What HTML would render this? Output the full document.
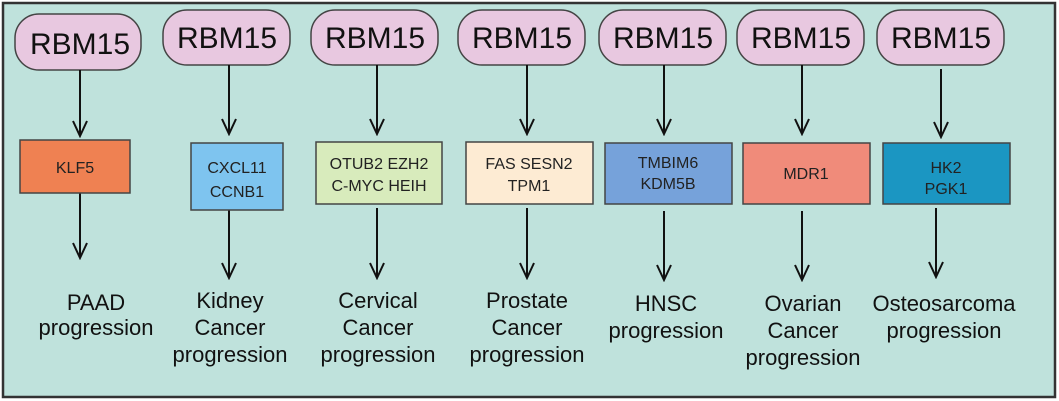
<!DOCTYPE html>
<html><head><meta charset="utf-8"><style>
html,body{margin:0;padding:0;background:#fff;}
svg{display:block;font-family:"Liberation Sans",Arial,sans-serif;}
</style></head><body>
<svg width="1059" height="401" viewBox="0 0 1059 401" xmlns="http://www.w3.org/2000/svg">
<defs>
<marker id="ah" markerWidth="18" markerHeight="16" refX="16" refY="8" orient="auto" markerUnits="userSpaceOnUse">
<path d="M1,1 L16,8 L1,15" fill="none" stroke="#111" stroke-width="2"/>
</marker>
</defs>
<rect x="3" y="3" width="1052" height="394" fill="#bfe2dc" stroke="#333" stroke-width="2.5"/>
<g stroke="#444" stroke-width="1.5" fill="#e8c8e0">
<rect x="15" y="14" width="126" height="56" rx="24"/>
<rect x="163" y="10" width="127" height="55" rx="24"/>
<rect x="311" y="10" width="127" height="55" rx="24"/>
<rect x="458" y="10" width="127" height="55" rx="24"/>
<rect x="599" y="10" width="127" height="55" rx="24"/>
<rect x="737" y="10" width="127" height="55" rx="24"/>
<rect x="877" y="10" width="127" height="55" rx="24"/>
</g>
<g font-size="30" fill="#111" text-anchor="middle">
<text x="80" y="54">RBM15</text>
<text x="227" y="48">RBM15</text>
<text x="375" y="48">RBM15</text>
<text x="522" y="48">RBM15</text>
<text x="663" y="48">RBM15</text>
<text x="801" y="48">RBM15</text>
<text x="941" y="48">RBM15</text>
</g>
<g stroke="#111" stroke-width="2" marker-end="url(#ah)">
<line x1="80" y1="70" x2="80" y2="136"/>
<line x1="229" y1="65" x2="229" y2="134"/>
<line x1="377" y1="65" x2="377" y2="134"/>
<line x1="527" y1="65" x2="527" y2="134"/>
<line x1="664" y1="65" x2="664" y2="134"/>
<line x1="802" y1="65" x2="802" y2="134"/>
<line x1="941" y1="69" x2="941" y2="137"/>
<line x1="80" y1="193" x2="80" y2="258"/>
<line x1="229" y1="210" x2="229" y2="278"/>
<line x1="377" y1="208" x2="377" y2="278"/>
<line x1="527" y1="208" x2="527" y2="278"/>
<line x1="664" y1="211" x2="664" y2="280"/>
<line x1="802" y1="211" x2="802" y2="280"/>
<line x1="936" y1="208" x2="936" y2="277"/>
</g>
<g stroke="#444" stroke-width="1.5">
<rect x="20" y="140" width="110" height="53" fill="#ef8152"/>
<rect x="191" y="143" width="92" height="67" fill="#7ec4ef"/>
<rect x="316" y="142" width="126" height="62" fill="#d8ebbc"/>
<rect x="466" y="142" width="127" height="62" fill="#fdebd3"/>
<rect x="605" y="143" width="127" height="61" fill="#76a2da"/>
<rect x="743" y="143" width="127" height="61" fill="#f08b7a"/>
<rect x="883" y="143" width="127" height="61" fill="#1b96c2"/>
</g>
<g font-size="16" fill="#222" text-anchor="middle">
<text x="75" y="173">KLF5</text>
<text x="237" y="173">CXCL11</text><text x="237" y="197">CCNB1</text>
<text x="379" y="169">OTUB2 EZH2</text><text x="379" y="191">C-MYC HEIH</text>
<text x="529" y="169">FAS  SESN2</text><text x="529" y="191">TPM1</text>
<text x="668" y="168">TMBIM6</text><text x="668" y="189">KDM5B</text>
<text x="806" y="179">MDR1</text>
<text x="946" y="173">HK2</text><text x="946" y="194">PGK1</text>
</g>
<g font-size="22" fill="#111" text-anchor="middle">
<text x="96" y="310">PAAD</text><text x="96" y="335">progression</text>
<text x="230" y="308">Kidney</text><text x="230" y="335">Cancer</text><text x="230" y="362">progression</text>
<text x="378" y="308">Cervical</text><text x="378" y="335">Cancer</text><text x="378" y="362">progression</text>
<text x="527" y="308">Prostate</text><text x="527" y="335">Cancer</text><text x="527" y="362">progression</text>
<text x="666" y="311">HNSC</text><text x="666" y="338">progression</text>
<text x="803" y="311">Ovarian</text><text x="803" y="338">Cancer</text><text x="803" y="365">progression</text>
<text x="944" y="311">Osteosarcoma</text><text x="944" y="338">progression</text>
</g>
</svg>
</body></html>
